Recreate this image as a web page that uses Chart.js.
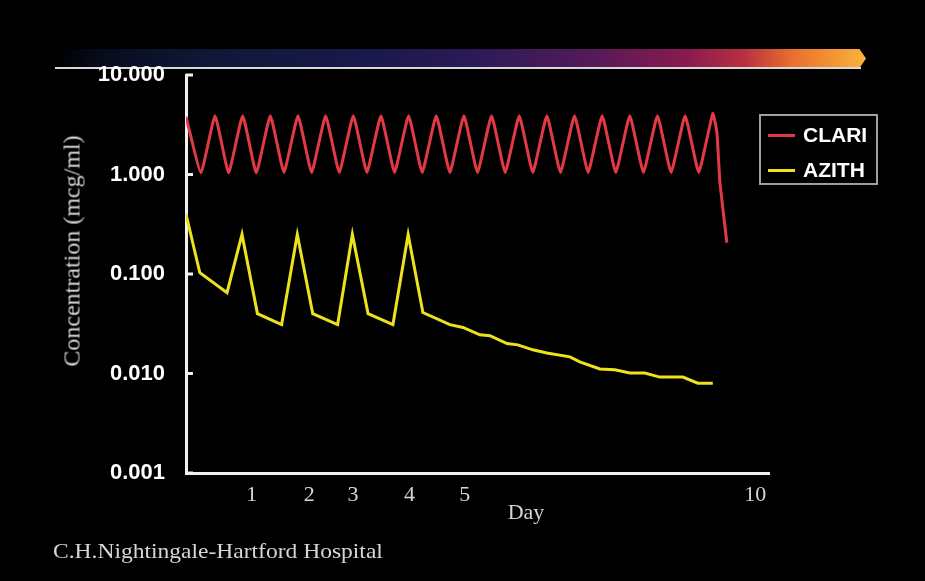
<!DOCTYPE html>
<html lang="en">
<head>
<meta charset="UTF-8">
<title>CLARI vs AZITH concentration</title>
<script src="https://cdn.jsdelivr.net/npm/chart.js"></script>
<style>
  body { margin: 0; background: #000; }
  #wrap { position: relative; width: 925px; height: 581px; background: #000; overflow: hidden; }
  #bar {
    position: absolute; left: 55px; top: 49px; width: 811px; height: 19px;
    clip-path: polygon(0 0, 99.2% 0, 100% 50%, 99.2% 100%, 0 100%);
    background: linear-gradient(to right, #000 0%, #070d1e 6%, #0e1836 18%, #18194a 38%,
      #2e1a58 53%, #581a58 67%, #8a1a50 78%, #b8303f 85%, #e8702e 91%, #fbb33b 100%);
  }
  #barLine { position: absolute; left: 55px; top: 67px; width: 806px; height: 2px; background: #d8d8d8; }
  #chartBox { position: absolute; left: 0; top: 0; width: 925px; height: 581px; }
  .serif { font-family: "Liberation Serif", "DejaVu Serif", serif; color: #d6d6d6; white-space: nowrap; position: absolute; }
  #yTitle { left: 72px; top: 251px; font-size: 24px; transform: translate(-50%, -50%) rotate(-90deg); }
  #xTitle { left: 526px; top: 512px; font-size: 22px; transform: translate(-50%, -50%); }
  #footer { left: 53px; top: 551px; font-size: 21px; transform-origin: left center; transform: translateY(-50%) scaleX(1.12); }
  #legend {
    position: absolute; left: 759px; top: 114px; width: 115px; height: 67px;
    border: 2px solid #a0a0a0; font-family: "Liberation Sans", Arial, sans-serif;
    font-weight: bold; font-size: 21px; color: #fff;
  }
  #legend .item { position: absolute; left: 7px; height: 24px; display: flex; align-items: center; }
  #legend .swatch { width: 27px; height: 3px; margin-right: 8px; }
</style>
</head>
<body>
<div id="wrap">
  <div id="bar"></div>
  <div id="barLine"></div>
  <div id="chartBox"><canvas id="concChart"></canvas></div>
  <div id="yTitle" class="serif">Concentration (mcg/ml)</div>
  <div id="xTitle" class="serif">Day</div>
  <div id="footer" class="serif">C.H.Nightingale-Hartford Hospital</div>
  <div id="legend"></div>
</div>

<script>
    // Time axis is in hours, values in mcg/ml
    const clariHours = [0, 6.5, 12.6, 18.5, 24.6, 30.5, 36.6, 42.5, 48.6, 54.5, 60.6, 66.5, 72.6, 78.5,
        84.6, 90.5, 96.6, 102.5, 108.6, 114.5, 120.6, 126.5, 132.6, 138.5, 144.6, 150.5, 156.6, 162.5,
        168.6, 174.5, 180.6, 186.5, 192.6, 198.5, 204.6, 210.5, 216.6, 222.5, 228.6, 230.4, 231.7, 234.7];
    const clariValues = [3.8, 1.04, 3.9, 1.04, 3.9, 1.04, 3.9, 1.05, 3.9, 1.05, 3.9, 1.05, 3.9, 1.05,
        3.9, 1.05, 3.9, 1.05, 3.9, 1.05, 3.9, 1.05, 3.9, 1.05, 3.9, 1.05, 3.9, 1.05,
        3.9, 1.05, 3.9, 1.05, 3.9, 1.05, 3.9, 1.05, 3.9, 1.05, 4.1, 2.65, 0.83, 0.206];

    const azithHours = [0, 6, 17.8, 24.3, 31, 41.5, 48.3, 55, 65.8, 72.2, 79, 89.8, 96.4, 102.8,
        114.5, 120.2, 127.5, 131.9, 139.3, 144, 150.5, 156.6, 166.6, 170.9, 179.6, 186.1, 192.6,
        199.1, 205.6, 215.6, 222.1, 228.6];
    const azithValues = [0.40, 0.103, 0.065, 0.25, 0.040, 0.031, 0.25, 0.040, 0.031, 0.25, 0.040, 0.031, 0.25, 0.041,
        0.031, 0.029, 0.0245, 0.024, 0.020, 0.0194, 0.0173, 0.0161, 0.0147, 0.0131, 0.0111, 0.0109, 0.0101,
        0.0101, 0.0092, 0.0092, 0.0080, 0.0080];

    // Day labels sit where the slide put them (not evenly spaced)
    const dayTickPos = [28.5, 53.5, 72.5, 97, 121, 247];
    const dayTickLabels = ["1", "2", "3", "4", "5", "10"];

    const yTickValues = [0.001, 0.01, 0.1, 1, 10];
    const yTickLabels = ["0.001", "0.010", "0.100", "1.000", "10.000"];

    const toPoints = (xs, ys) => xs.map((x, i) => ({ x: x, y: ys[i] }));

    // small inward ticks on the y axis
    const innerTicks = {
        id: "innerTicks",
        afterDraw(chart) {
            let ctx = chart.ctx;
            let y = chart.scales.y;
            let left = chart.chartArea.left;
            ctx.save();
            ctx.strokeStyle = "#f0f0f0";
            ctx.lineWidth = 3;
            yTickValues.forEach(v => {
                let py = y.getPixelForValue(v);
                ctx.beginPath();
                ctx.moveTo(left, py);
                ctx.lineTo(left + 7, py);
                ctx.stroke();
            });
            ctx.restore();
        }
    };

    let ctx = document.getElementById("concChart").getContext("2d");
    let concChart = new Chart(ctx, {
        type: "line",
        data: {
            datasets: [{
                label: "CLARI",
                data: toPoints(clariHours, clariValues),
                borderColor: "#e23a44",
                borderWidth: 3,
                tension: 0.12
            }, {
                label: "AZITH",
                data: toPoints(azithHours, azithValues),
                borderColor: "#ece21e",
                borderWidth: 3,
                tension: 0
            }]
        },
        options: {
            responsive: true,
            maintainAspectRatio: false,
            animation: false,
            layout: { padding: { left: 56, top: 75, right: 156, bottom: 58 } },
            elements: { point: { radius: 0 } },
            plugins: { legend: { display: false }, tooltip: { enabled: false } },
            scales: {
                x: {
                    type: "linear",
                    min: 0,
                    max: 253,
                    afterFit: s => { s.height = 50; },
                    afterBuildTicks: s => { s.ticks = dayTickPos.map(v => ({ value: v })); },
                    grid: { drawOnChartArea: false, drawTicks: false },
                    border: { color: "#f0f0f0", width: 3 },
                    ticks: {
                        padding: 9,
                        maxRotation: 0,
                        autoSkip: false,
                        color: "#d6d6d6",
                        font: { family: "'Liberation Serif', serif", size: 22 },
                        callback: (v, i) => dayTickLabels[i]
                    }
                },
                y: {
                    type: "logarithmic",
                    min: 0.001,
                    max: 10,
                    afterFit: s => { s.width = 130; },
                    afterBuildTicks: s => { s.ticks = yTickValues.map(v => ({ value: v })); },
                    grid: { drawOnChartArea: false, drawTicks: false },
                    border: { color: "#f0f0f0", width: 3 },
                    ticks: {
                        padding: 21,
                        color: "#ffffff",
                        font: { family: "'Liberation Sans', Arial, sans-serif", size: 22, weight: "bold" },
                        callback: (v, i) => yTickLabels[i]
                    }
                }
            }
        },
        plugins: [innerTicks]
    });

    // Legend built from the datasets
    let legendEl = document.getElementById("legend");
    concChart.data.datasets.forEach((ds, i) => {
        let item = document.createElement("div");
        item.className = "item";
        item.style.top = (7 + i * 35) + "px";
        item.innerHTML = '<span class="swatch" style="background:' + ds.borderColor + '"></span>' + ds.label;
        legendEl.appendChild(item);
    });
</script>
</body>
</html>
